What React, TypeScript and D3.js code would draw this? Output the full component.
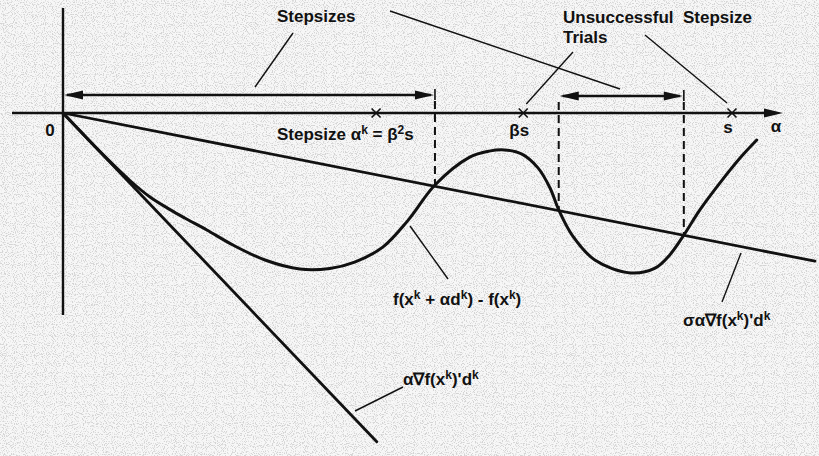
import React from "react";
import * as d3 from "d3";

const W = 819;
const H = 456;

// Trial stepsizes, in units of the initial stepsize s: s, βs, β²s
const trialSteps = [1, 0.688, 0.468];
const trialLabels = ["s", "βs", ""];

// Stepsizes where f(x^k + αd^k) - f(x^k) meets σα∇f(x^k)'d^k
const crossings = [0.556, 0.741, 0.928];

// Directional derivative ∇f(x^k)'d^k and the Armijo fraction σ
const slope = -2.337;
const sigma = 0.188;
const tangentEnd = 0.469;
const sigmaLineEnd = 1.124;

// Samples of f(x^k + αd^k) - f(x^k)
const curveAlpha = [
  0, 0.055, 0.1, 0.13, 0.16, 0.182, 0.215, 0.254, 0.302, 0.354, 0.399,
  0.436, 0.478, 0.516, 0.556, 0.608, 0.637, 0.66, 0.686, 0.71, 0.728, 0.741,
  0.761, 0.795, 0.848, 0.885, 0.907, 0.928, 0.952, 0.982, 1.012, 1.037,
];
const curveValue = [
  0, -0.128, -0.225, -0.28, -0.322, -0.35, -0.39, -0.44, -0.49, -0.52,
  -0.518, -0.497, -0.447, -0.357, -0.24, -0.147, -0.127, -0.123, -0.137,
  -0.183, -0.25, -0.323, -0.407, -0.49, -0.533, -0.517, -0.473, -0.407,
  -0.323, -0.233, -0.15, -0.09,
];

const FONT = "'Liberation Sans', Arial, Helvetica, sans-serif";

// Text runs: [text, superscript?]
type Run = [string, boolean];
const stepLabel: Run[] = [["Stepsize α", false], ["k", true], [" = β", false], ["2", true], ["s", false]];
const curveLabel: Run[] = [
  ["f(x", false], ["k", true], [" + αd", false], ["k", true], [") - f(x", false], ["k", true], [")", false],
];
const sigmaLabel: Run[] = [["σα∇f(x", false], ["k", true], [")'d", false], ["k", true]];
const tangentLabel: Run[] = [["α∇f(x", false], ["k", true], [")'d", false], ["k", true]];

function RichText({ runs, x, y }: { runs: Run[]; x: number; y: number }) {
  let prevSup = false;
  return (
    <text x={x} y={y}>
      {runs.map(([t, sup], i) => {
        const dy = sup === prevSup ? 0 : sup ? -6 : 6;
        prevSup = sup;
        return (
          <tspan key={i} dy={dy} fontSize={sup ? 12 : 17}>
            {t}
          </tspan>
        );
      })}
    </text>
  );
}

export default function App() {
  const x = d3.scaleLinear().domain([0, 1]).range([63, 732]);
  const y = d3.scaleLinear().domain([0, -1]).range([113, 413]);
  const x0 = x(0);
  const y0 = y(0);

  const curvePts: [number, number][] = curveAlpha.map((a, i) => [a, curveValue[i]]);
  const curvePath = d3
    .line<[number, number]>()
    .x((d) => x(d[0]))
    .y((d) => y(d[1]))
    .curve(d3.curveCatmullRom.alpha(0.5))(curvePts);

  const sigmaAt = (a: number) => sigma * slope * a;

  const arrowY1 = 95;
  const arrowY2 = 96;
  const head = (tx: number, ty: number, dir: number) =>
    `${tx},${ty} ${tx - dir * 19},${ty - 4.5} ${tx - dir * 19},${ty + 4.5}`;

  const cross = (a: number) => {
    const cx = x(a);
    const r = 4.5;
    return (
      <g key={a} stroke="#111" strokeWidth={1.6}>
        <line x1={cx - r} y1={y0 - r} x2={cx + r} y2={y0 + r} />
        <line x1={cx - r} y1={y0 + r} x2={cx + r} y2={y0 - r} />
      </g>
    );
  };

  return (
    <svg
      width={W}
      height={H}
      viewBox={`0 0 ${W} ${H}`}
      style={{ position: "absolute", left: 0, top: 0, display: "block" }}
      fontFamily={FONT}
    >
      <defs>
        <filter id="grain" x="0" y="0" width="100%" height="100%">
          <feTurbulence type="fractalNoise" baseFrequency="0.9" numOctaves={1} seed={7} result="n" />
          <feColorMatrix
            in="n"
            type="matrix"
            values="0 0 0 0 0.45  0 0 0 0 0.45  0 0 0 0 0.45  7 0 0 0 -3.55"
          />
        </filter>
      </defs>
      <rect width={W} height={H} fill="#f7f7f7" />
      <rect width={W} height={H} filter="url(#grain)" opacity={0.5} />

      {/* axes */}
      <g stroke="#111" strokeWidth={2.4} fill="none">
        <line x1={12} y1={y0} x2={770} y2={y0} />
        <line x1={x0} y1={8} x2={x0} y2={315} />
      </g>
      <polygon points={head(783, y0, 1)} fill="#111" />

      {/* trial stepsizes on the α axis */}
      {trialSteps.map(cross)}

      {/* stepsize intervals */}
      <g stroke="#111" strokeWidth={2.4}>
        <line x1={x0 + 4} y1={arrowY1} x2={x(crossings[0]) - 4} y2={arrowY1} />
        <line x1={x(crossings[1]) + 4} y1={arrowY2} x2={x(crossings[2]) - 4} y2={arrowY2} />
      </g>
      <g fill="#111">
        <polygon points={head(x0 + 1, arrowY1, -1)} />
        <polygon points={head(x(crossings[0]) - 1, arrowY1, 1)} />
        <polygon points={head(x(crossings[1]) + 1, arrowY2, -1)} />
        <polygon points={head(x(crossings[2]) - 1, arrowY2, 1)} />
      </g>
      <g stroke="#111" strokeWidth={1.6}>
        <line x1={x(crossings[0])} y1={arrowY1 - 6} x2={x(crossings[0])} y2={arrowY1 + 5} />
        <line x1={x(crossings[2])} y1={arrowY2 - 6} x2={x(crossings[2])} y2={arrowY2 + 5} />
      </g>
      <g stroke="#111" strokeWidth={2} strokeDasharray="8 5">
        {crossings.map((a, i) => (
          <line
            key={a}
            x1={x(a)}
            y1={(i === 0 ? arrowY1 : arrowY2) + 6}
            x2={x(a)}
            y2={y(sigmaAt(a))}
          />
        ))}
      </g>

      {/* α∇f(x^k)'d^k and σα∇f(x^k)'d^k */}
      <g stroke="#111" strokeWidth={2.8} strokeLinecap="round">
        <line x1={x0} y1={y0} x2={x(tangentEnd)} y2={y(slope * tangentEnd)} />
        <line x1={x0} y1={y0} x2={x(sigmaLineEnd)} y2={y(sigmaAt(sigmaLineEnd))} />
      </g>

      {/* f(x^k + αd^k) - f(x^k) */}
      <path d={curvePath ?? ""} fill="none" stroke="#111" strokeWidth={3} strokeLinecap="round" />

      {/* leader lines */}
      <g stroke="#111" strokeWidth={1.4}>
        <line x1={293} y1={33} x2={255} y2={87} />
        <line x1={390} y1={11} x2={620} y2={89} />
        <line x1={573} y1={52} x2={x(trialSteps[1]) + 3} y2={y0 - 9} />
        <line x1={645} y1={35} x2={x(trialSteps[0]) - 5} y2={y0 - 10} />
        <line x1={410} y1={226} x2={448} y2={279} />
        <line x1={741} y1={253} x2={722} y2={302} />
        <line x1={355} y1={411} x2={403} y2={387} />
      </g>

      {/* text */}
      <g fill="#111" fontSize={17} fontWeight="bold">
        <text x={277} y={22}>Stepsizes</text>
        <text x={563} y={23} xmlSpace="preserve">Unsuccessful  Stepsize</text>
        <text x={563} y={43}>Trials</text>
        <text x={x0 - 13} y={136} textAnchor="middle">0</text>
        <RichText runs={stepLabel} x={277} y={140} />
        {trialSteps.map((a, i) =>
          trialLabels[i] ? (
            <text key={a} x={x(a) - 4} y={i === 0 ? 133 : 136} textAnchor="middle">
              {trialLabels[i]}
            </text>
          ) : null
        )}
        <text x={776} y={132} textAnchor="middle">α</text>
        <RichText runs={curveLabel} x={393} y={305} />
        <RichText runs={sigmaLabel} x={683} y={326} />
        <RichText runs={tangentLabel} x={403} y={385} />
      </g>
    </svg>
  );
}
